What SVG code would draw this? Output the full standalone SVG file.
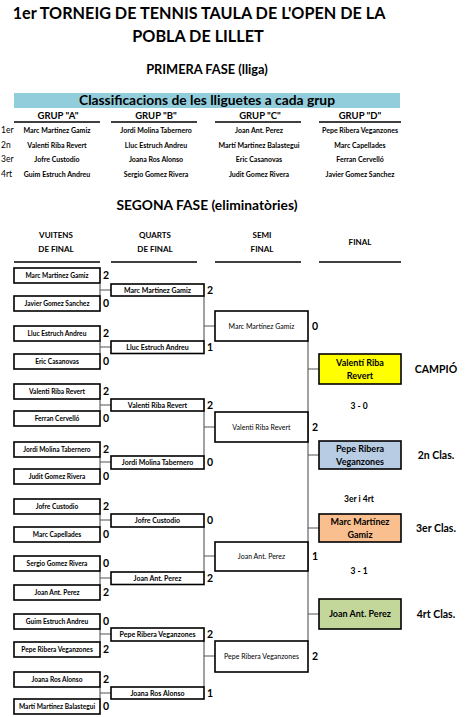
<svg xmlns="http://www.w3.org/2000/svg" width="466" height="717" viewBox="0 0 466 717">
<style>
text{font-family:Lato,"Liberation Sans",sans-serif;fill:#000;font-weight:bold}
.t1{font-size:16.2px}
.h2{font-size:12.8px}
.h3{font-size:13.8px}
.gh{font-size:9.5px;text-anchor:middle}
.gn{font-size:7px;text-anchor:middle}
.rl{font-size:8.5px;font-weight:normal}
.ch{font-size:8px;text-anchor:middle}
.n1{font-size:6.6px;text-anchor:middle}
.n2{font-size:7px;text-anchor:middle}
.n3{font-size:7px;text-anchor:middle;font-weight:normal}
.fn{font-size:9px;text-anchor:middle}
.sc{font-size:10.5px}
.lab{font-size:10.5px;text-anchor:middle}
.res{font-size:8.5px;text-anchor:middle}
.box{fill:#fff;stroke:#000;stroke-width:1.6}
.ul{stroke:#000;stroke-width:1.6}
.cn{stroke:#555;stroke-width:1.1;fill:none}
</style>
<rect width="466" height="717" fill="#fff"/>
<g id="title">
<text class="t1" x="199" y="19" text-anchor="middle">1er TORNEIG DE TENNIS TAULA DE L'OPEN DE LA</text>
<text class="t1" x="198" y="42" text-anchor="middle">POBLA DE LILLET</text>
<text class="h2" x="207" y="74" text-anchor="middle">PRIMERA FASE (lliga)</text>
</g>
<g id="groups">
<rect x="14" y="93" width="386" height="15" fill="#92CDDC"/>
<text class="h3" x="207" y="105" text-anchor="middle">Classificacions de les lliguetes a cada grup</text>
<text class="gh" x="58" y="119">GRUP "A"</text>
<text class="gh" x="156" y="119">GRUP "B"</text>
<text class="gh" x="260" y="119">GRUP "C"</text>
<text class="gh" x="360" y="119">GRUP "D"</text>
<line class="ul" x1="14" y1="122" x2="100" y2="122"/>
<line class="ul" x1="111" y1="122" x2="197" y2="122"/>
<line class="ul" x1="215" y1="122" x2="301" y2="122"/>
<line class="ul" x1="319" y1="122" x2="401" y2="122"/>
<text class="rl" x="1" y="133">1er</text>
<text class="rl" x="1" y="148">2n</text>
<text class="rl" x="1" y="162">3er</text>
<text class="rl" x="1" y="177">4rt</text>
<text class="gn" x="57" y="133">Marc Martinez Gamiz</text>
<text class="gn" x="57" y="148">Valenti Riba Revert</text>
<text class="gn" x="57" y="162">Jofre Custodio</text>
<text class="gn" x="57" y="177">Guim Estruch Andreu</text>
<text class="gn" x="156" y="133">Jordi Molina Tabernero</text>
<text class="gn" x="156" y="148">Lluc Estruch Andreu</text>
<text class="gn" x="156" y="162">Joana Ros Alonso</text>
<text class="gn" x="156" y="177">Sergio Gomez Rivera</text>
<text class="gn" x="259" y="133">Joan Ant. Perez</text>
<text class="gn" x="259" y="148">Martí Martinez Balastegui</text>
<text class="gn" x="259" y="162">Eric Casanovas</text>
<text class="gn" x="259" y="177">Judit Gomez Rivera</text>
<text class="gn" x="360" y="133">Pepe Ribera Veganzones</text>
<text class="gn" x="360" y="148">Marc Capellades</text>
<text class="gn" x="360" y="162">Ferran Cervelló</text>
<text class="gn" x="360" y="177">Javier Gomez Sanchez</text>
</g>
<g id="phase2-headers">
<text class="h3" x="207" y="210" text-anchor="middle">SEGONA FASE (eliminatòries)</text>
<text class="ch" x="56" y="238">VUITENS</text>
<text class="ch" x="56" y="252">DE FINAL</text>
<text class="ch" x="155" y="238">QUARTS</text>
<text class="ch" x="155" y="252">DE FINAL</text>
<text class="ch" x="262" y="238">SEMI</text>
<text class="ch" x="262" y="252">FINAL</text>
<text class="ch" x="360" y="245">FINAL</text>
<line class="ul" x1="14" y1="262" x2="100" y2="262"/>
<line class="ul" x1="111" y1="262" x2="197" y2="262"/>
<line class="ul" x1="215" y1="262" x2="301" y2="262"/>
<line class="ul" x1="319" y1="262" x2="401" y2="262"/>
</g>
<g id="connectors">
<path class="cn" d="M100 284V296M100 290H111"/>
<path class="cn" d="M100 341V354M100 347H111"/>
<path class="cn" d="M100 399V411M100 405H111"/>
<path class="cn" d="M100 457V469M100 462H111"/>
<path class="cn" d="M100 514V527M100 520H111"/>
<path class="cn" d="M100 571V585M100 578H111"/>
<path class="cn" d="M100 629V642M100 634H111"/>
<path class="cn" d="M100 687V699M100 693H111"/>
<path class="cn" d="M204 296V341M204 326H215"/>
<path class="cn" d="M204 411V456M204 427H215"/>
<path class="cn" d="M204 527V572M204 556H215"/>
<path class="cn" d="M204 641V687M204 656H215"/>
<path class="cn" d="M308 341V641M308 369H319M308 455H319M308 528H319M308 614H319"/>
</g>
<g id="r16-1"><rect class="box" x="14" y="268" width="86" height="15"/><text class="n1" x="57" y="278">Marc Martinez Gamiz</text><text class="sc" x="103" y="279">2</text></g>
<g id="r16-2"><rect class="box" x="14" y="296" width="86" height="15"/><text class="n1" x="57" y="306">Javier Gomez Sanchez</text><text class="sc" x="103" y="307">0</text></g>
<g id="r16-3"><rect class="box" x="14" y="326" width="86" height="15"/><text class="n1" x="57" y="336">Lluc Estruch Andreu</text><text class="sc" x="103" y="337">2</text></g>
<g id="r16-4"><rect class="box" x="14" y="354" width="86" height="15"/><text class="n1" x="57" y="364">Eric Casanovas</text><text class="sc" x="103" y="365">0</text></g>
<g id="r16-5"><rect class="box" x="14" y="384" width="86" height="15"/><text class="n1" x="57" y="394">Valenti Riba Revert</text><text class="sc" x="103" y="395">2</text></g>
<g id="r16-6"><rect class="box" x="14" y="411" width="86" height="15"/><text class="n1" x="57" y="421">Ferran Cervelló</text><text class="sc" x="103" y="422">0</text></g>
<g id="r16-7"><rect class="box" x="14" y="442" width="86" height="15"/><text class="n1" x="57" y="452">Jordi Molina Tabernero</text><text class="sc" x="103" y="453">2</text></g>
<g id="r16-8"><rect class="box" x="14" y="469" width="86" height="15"/><text class="n1" x="57" y="479">Judit Gomez Rivera</text><text class="sc" x="103" y="480">0</text></g>
<g id="r16-9"><rect class="box" x="14" y="499" width="86" height="15"/><text class="n1" x="57" y="509">Jofre Custodio</text><text class="sc" x="103" y="510">2</text></g>
<g id="r16-10"><rect class="box" x="14" y="527" width="86" height="15"/><text class="n1" x="57" y="537">Marc Capellades</text><text class="sc" x="103" y="538">0</text></g>
<g id="r16-11"><rect class="box" x="14" y="556" width="86" height="15"/><text class="n1" x="57" y="566">Sergio Gomez Rivera</text><text class="sc" x="103" y="567">0</text></g>
<g id="r16-12"><rect class="box" x="14" y="585" width="86" height="15"/><text class="n1" x="57" y="595">Joan Ant. Perez</text><text class="sc" x="103" y="596">2</text></g>
<g id="r16-13"><rect class="box" x="14" y="614" width="86" height="15"/><text class="n1" x="57" y="624">Guim Estruch Andreu</text><text class="sc" x="103" y="625">0</text></g>
<g id="r16-14"><rect class="box" x="14" y="642" width="86" height="15"/><text class="n1" x="57" y="652">Pepe Ribera Veganzones</text><text class="sc" x="103" y="653">2</text></g>
<g id="r16-15"><rect class="box" x="14" y="672" width="86" height="15"/><text class="n1" x="57" y="682">Joana Ros Alonso</text><text class="sc" x="103" y="683">2</text></g>
<g id="r16-16"><rect class="box" x="14" y="699" width="86" height="15"/><text class="n1" x="57" y="709">Martí Martinez Balastegui</text><text class="sc" x="103" y="710">0</text></g>
<g id="qf-1"><rect class="box" x="111" y="284" width="93" height="12"/><text class="n2" x="157.5" y="292.5">Marc Martinez Gamiz</text><text class="sc" x="207" y="294">2</text></g>
<g id="qf-2"><rect class="box" x="111" y="341" width="93" height="12.5"/><text class="n2" x="157.5" y="349.8">Lluc Estruch Andreu</text><text class="sc" x="207" y="351">1</text></g>
<g id="qf-3"><rect class="box" x="111" y="399" width="93" height="12"/><text class="n2" x="157.5" y="407.5">Valenti Riba Revert</text><text class="sc" x="207" y="409">2</text></g>
<g id="qf-4"><rect class="box" x="111" y="456" width="93" height="13"/><text class="n2" x="157.5" y="465">Jordi Molina Tabernero</text><text class="sc" x="207" y="466">0</text></g>
<g id="qf-5"><rect class="box" x="111" y="514" width="93" height="13"/><text class="n2" x="157.5" y="523">Jofre Custodio</text><text class="sc" x="207" y="524">0</text></g>
<g id="qf-6"><rect class="box" x="111" y="572" width="93" height="12.5"/><text class="n2" x="157.5" y="580.8">Joan Ant. Perez</text><text class="sc" x="207" y="582">2</text></g>
<g id="qf-7"><rect class="box" x="111" y="628" width="93" height="13"/><text class="n2" x="157.5" y="637">Pepe Ribera Veganzones</text><text class="sc" x="207" y="638">2</text></g>
<g id="qf-8"><rect class="box" x="111" y="687" width="93" height="12"/><text class="n2" x="157.5" y="695.5">Joana Ros Alonso</text><text class="sc" x="207" y="697">1</text></g>
<g id="sf-1"><rect class="box" x="215" y="311" width="93" height="30"/><text class="n3" x="261.5" y="328.5">Marc Martínez Gamiz</text><text class="sc" x="312" y="330">0</text></g>
<g id="sf-2"><rect class="box" x="215" y="412" width="93" height="30"/><text class="n3" x="261.5" y="429.5">Valenti Riba Revert</text><text class="sc" x="312" y="431">2</text></g>
<g id="sf-3"><rect class="box" x="215" y="542" width="93" height="29"/><text class="n3" x="261.5" y="559">Joan Ant. Perez</text><text class="sc" x="312" y="560">1</text></g>
<g id="sf-4"><rect class="box" x="215" y="641" width="93" height="31"/><text class="n3" x="261.5" y="659">Pepe Ribera Veganzones</text><text class="sc" x="312" y="660">2</text></g>
<g id="final-1"><rect class="box" x="319" y="354" width="82" height="30" style="fill:#FFFF00"/><text class="fn" x="360" y="366">Valentí Riba</text><text class="fn" x="360" y="379">Revert</text></g>
<g id="final-2"><rect class="box" x="319" y="441" width="82" height="28" style="fill:#B8CCE4"/><text class="fn" x="360" y="452">Pepe Ribera</text><text class="fn" x="360" y="465">Veganzones</text></g>
<g id="final-3"><rect class="box" x="319" y="514" width="82" height="28" style="fill:#FABF8F"/><text class="fn" x="360" y="525">Marc Martínez</text><text class="fn" x="360" y="538">Gamiz</text></g>
<g id="final-4"><rect class="box" x="319" y="599" width="82" height="30" style="fill:#C4D79B"/><text class="fn" x="360" y="617">Joan Ant. Perez</text></g>
<g id="labels">
<text class="lab" x="436" y="373">CAMPIÓ</text>
<text class="res" x="359" y="409">3 - 0</text>
<text class="lab" x="436" y="459">2n Clas.</text>
<text class="res" x="359" y="502">3er i 4rt</text>
<text class="lab" x="436" y="532">3er Clas.</text>
<text class="res" x="359" y="574">3 - 1</text>
<text class="lab" x="436" y="618">4rt Clas.</text>
</g>
</svg>
